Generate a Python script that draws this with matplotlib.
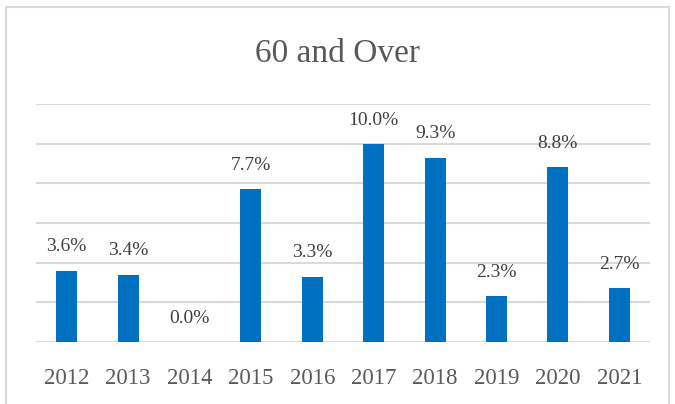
import numpy as np
import matplotlib.pyplot as plt
from matplotlib.patches import Rectangle

# Data
years = ['2012', '2013', '2014', '2015', '2016', '2017', '2018', '2019', '2020', '2021']
pct = [3.6, 3.4, 0.0, 7.7, 3.3, 10.0, 9.3, 2.3, 8.8, 2.7]

plt.rcParams['font.family'] = ['Liberation Serif', 'DejaVu Serif']

fig = plt.figure(figsize=(6.75, 4.04), dpi=100)
# chart border (light grey frame like the Excel chart area)
fig.patches.append(Rectangle((6 / 675, -0.05), 663 / 675, 1.05 - 7 / 404,
                             transform=fig.transFigure, fill=False,
                             edgecolor='#d9d9d9', linewidth=1.5))

axis = fig.add_axes([36 / 675, 1 - 342 / 404, 614 / 675, 238 / 404])
x = np.arange(len(years))
axis.bar(x, pct, width=0.34, color='#0070C0', zorder=3)
axis.set_xlim(-0.5, len(years) - 0.5)
axis.set_ylim(0, 12)
axis.set_yticks(np.arange(0, 13, 2))
axis.yaxis.grid(True, color='#d9d9d9', linewidth=1.5, zorder=0)
axis.tick_params(axis='y', left=False, labelleft=False)
axis.tick_params(axis='x', length=0, pad=19, labelsize=16.5, colors='#595959')
axis.set_xticks(x)
axis.set_xticklabels(years)
for s in axis.spines.values():
    s.set_visible(False)

# data labels
for xi, v in zip(x, pct):
    axis.annotate('%.1f%%' % v, (xi, v), xytext=(0, 17), textcoords='offset points',
                  ha='center', va='center', fontsize=14, color='#404040')

fig.text(0.5, 1 - 62 / 404, '60 and Over', ha='center', va='baseline',
         fontsize=24, color='#595959')

plt.savefig('out.png')
